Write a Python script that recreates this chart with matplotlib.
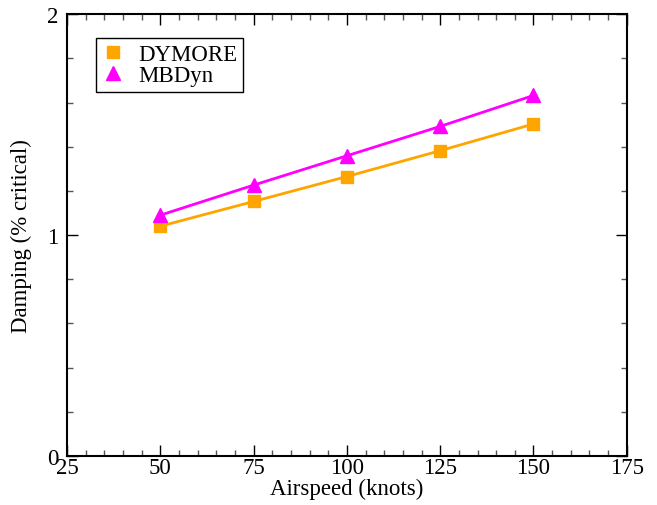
import matplotlib
matplotlib.use("Agg")
import matplotlib.pyplot as plt
from matplotlib.ticker import MultipleLocator
from matplotlib.lines import Line2D

# data
airspeed = [50, 75, 100, 125, 150]
dymore = [1.04, 1.152, 1.265, 1.382, 1.503]
mbdyn = [1.09, 1.226, 1.359, 1.492, 1.632]

plt.rcParams['font.family'] = ['Liberation Serif', 'DejaVu Serif']

fig = plt.figure(figsize=(6.57, 5.06), dpi=100)
ax = fig.add_axes([0.102, 0.097, 0.852, 0.873])

ax.plot(airspeed, dymore, color='#FFA500', lw=2, marker='s', ms=9,
        label='DYMORE')
ax.plot(airspeed, mbdyn, color='#FF00FF', lw=2, marker='^', ms=10,
        label='MBDyn')

ax.set_xlim(25, 175)
ax.set_ylim(0, 2)
ax.xaxis.set_major_locator(MultipleLocator(25))
ax.xaxis.set_minor_locator(MultipleLocator(5))
ax.yaxis.set_major_locator(MultipleLocator(1))
ax.yaxis.set_minor_locator(MultipleLocator(0.2))
ax.tick_params(which='both', direction='in', top=True, right=True,
               labelsize=16.5, width=1)
ax.tick_params(which='major', length=8)
ax.tick_params(axis='x', which='major', pad=1)
ax.tick_params(axis='y', which='major', pad=6)
ax.tick_params(which='minor', length=4, color='#555555')
for s in ax.spines.values():
    s.set_linewidth(1.5)

ax.set_xlabel('Airspeed (knots)', fontsize=16.5, labelpad=0)
ax.set_ylabel('Damping (% critical)', fontsize=16.5, labelpad=11)

handles = [
    Line2D([], [], color='#FFA500', marker='s', ms=9, ls='none'),
    Line2D([], [], color='#FF00FF', marker='^', ms=10, ls='none'),
]
leg = ax.legend(handles, ['DYMORE', 'MBDyn'], loc='upper left',
                bbox_to_anchor=(0.052, 0.945), fontsize=16.5, fancybox=False,
                framealpha=1, edgecolor='black', handlelength=1.0,
                handletextpad=0.6, borderpad=0.25, labelspacing=0.0,
                borderaxespad=0)
leg.get_frame().set_linewidth(1)

fig.savefig('out.png', dpi=100)
